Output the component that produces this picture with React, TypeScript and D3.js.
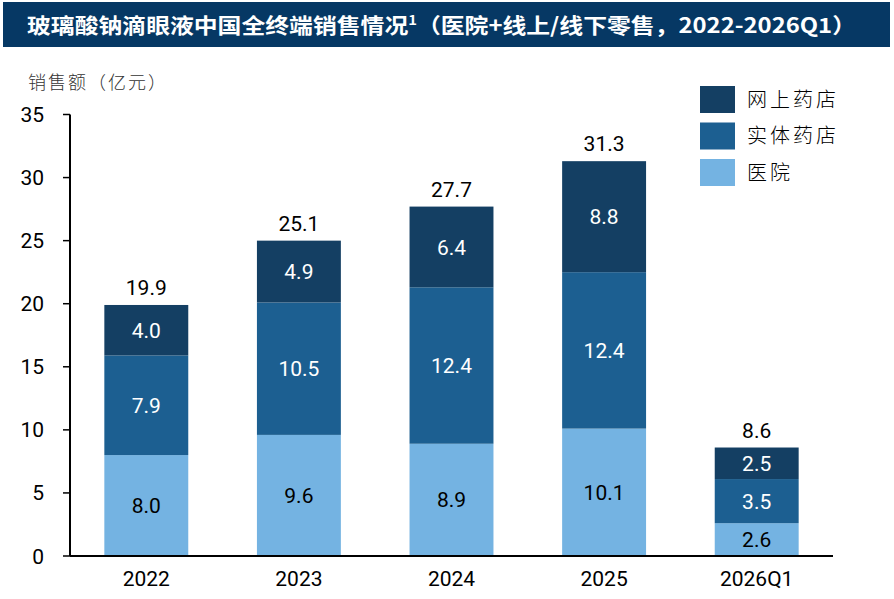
import React, { useEffect } from "react";
import * as d3 from "d3";

const categories = ["2022", "2023", "2024", "2025", "2026Q1"];
const hospital = [8.0, 9.6, 8.9, 10.1, 2.6];
const retail = [7.9, 10.5, 12.4, 12.4, 3.5];
const online = [4.0, 4.9, 6.4, 8.8, 2.5];
const totals = [19.9, 25.1, 27.7, 31.3, 8.6];
const yTicks = [0, 5, 10, 15, 20, 25, 30, 35];
const seriesNames = ["网上药店", "实体药店", "医院"];
const colors = { online: "#143f63", retail: "#1c5f91", hospital: "#74b3e2" };

const W = 894;
const H = 599;
const margin = { left: 70, right: 61, top: 114.5, bottom: 43 };

export default function App() {
  useEffect(() => {
    document.body.style.margin = "0";
  }, []);

  const x = d3
    .scaleBand<string>()
    .domain(categories)
    .range([margin.left, W - margin.right])
    .paddingInner(0.45)
    .paddingOuter(0.225);
  const y = d3
    .scaleLinear()
    .domain([0, 35])
    .range([H - margin.bottom, margin.top]);

  const data = categories.map((c, i) => ({
    cat: c,
    hospital: hospital[i],
    retail: retail[i],
    online: online[i],
  }));
  const stack = d3.stack<any>().keys(["hospital", "retail", "online"]);
  const layers = stack(data);

  const numFont = "Roboto, 'Noto Sans', sans-serif";
  const cjk = "'Noto Sans CJK SC', sans-serif";
  const fs = 21;

  return (
    <svg width={W} height={H} style={{ display: "block", background: "#fff" }}>
      <rect x={3} y={2} width={887} height={45} fill="#063864" />
      <text
        x={27}
        y={33}
        fill="#fff"
        fontSize={21}
        fontWeight="bold"
        fontFamily={cjk}
        textLength={829}
        lengthAdjust="spacingAndGlyphs"
      >
        玻璃酸钠滴眼液中国全终端销售情况
        <tspan fontSize={13} dy={-8}>1</tspan>
        <tspan dy={8}>（医院+线上/线下零售，2022-2026Q1）</tspan>
      </text>

      <text x={28} y={89} fontSize={18} fill="#333" fontFamily={cjk} fontWeight={300} letterSpacing={2}>
        销售额（亿元）
      </text>

      {layers.map((layer) =>
        layer.map((d, i) => {
          const key = layer.key as "hospital" | "retail" | "online";
          const v = d[1] - d[0];
          const bx = x(categories[i])!;
          const y0 = y(d[0]);
          const y1 = y(d[1]);
          return (
            <g key={key + i}>
              <rect x={bx} y={y1} width={x.bandwidth()} height={y0 - y1} fill={colors[key]} />
              <text
                x={bx + x.bandwidth() / 2}
                y={(y0 + y1) / 2}
                dy="0.36em"
                textAnchor="middle"
                fontSize={fs}
                fontFamily={numFont}
                fill={key === "hospital" ? "#000" : "#fff"}
              >
                {v.toFixed(1)}
              </text>
            </g>
          );
        })
      )}

      {categories.map((c, i) => (
        <text
          key={"t" + c}
          x={x(c)! + x.bandwidth() / 2}
          y={y(layers[2][i][1]) - 10}
          textAnchor="middle"
          fontSize={fs}
          fontFamily={numFont}
          fill="#000"
        >
          {totals[i].toFixed(1)}
        </text>
      ))}

      {/* y axis */}
      <line x1={margin.left} x2={margin.left} y1={y(35)} y2={y(0)} stroke="#000" strokeWidth={2} />
      {yTicks.map((t) => (
        <g key={"y" + t}>
          <line x1={margin.left - 7} x2={margin.left} y1={y(t)} y2={y(t)} stroke="#000" strokeWidth={1.5} />
          <text
            x={44}
            y={y(t)}
            dy="0.36em"
            textAnchor="end"
            fontSize={fs}
            fontFamily={numFont}
            fill="#000"
          >
            {t}
          </text>
        </g>
      ))}

      {/* x axis */}
      <line x1={margin.left} x2={W - margin.right} y1={y(0)} y2={y(0)} stroke="#000" strokeWidth={2} />
      {categories.map((c) => (
        <text
          key={"x" + c}
          x={x(c)! + x.bandwidth() / 2}
          y={586}
          textAnchor="middle"
          fontSize={fs}
          fontFamily={numFont}
          fill="#000"
        >
          {c}
        </text>
      ))}

      {/* legend */}
      {seriesNames.map((n, i) => {
        const key = (["online", "retail", "hospital"] as const)[i];
        const ly = 86 + i * 36.5;
        return (
          <g key={"l" + n}>
            <rect x={700} y={ly} width={35} height={27} fill={colors[key]} />
            <text x={747} y={ly + 13.5} dy="0.36em" fontSize={20} fontFamily={cjk} fontWeight={300} fill="#000" letterSpacing={3}>
              {n}
            </text>
          </g>
        );
      })}
    </svg>
  );
}
